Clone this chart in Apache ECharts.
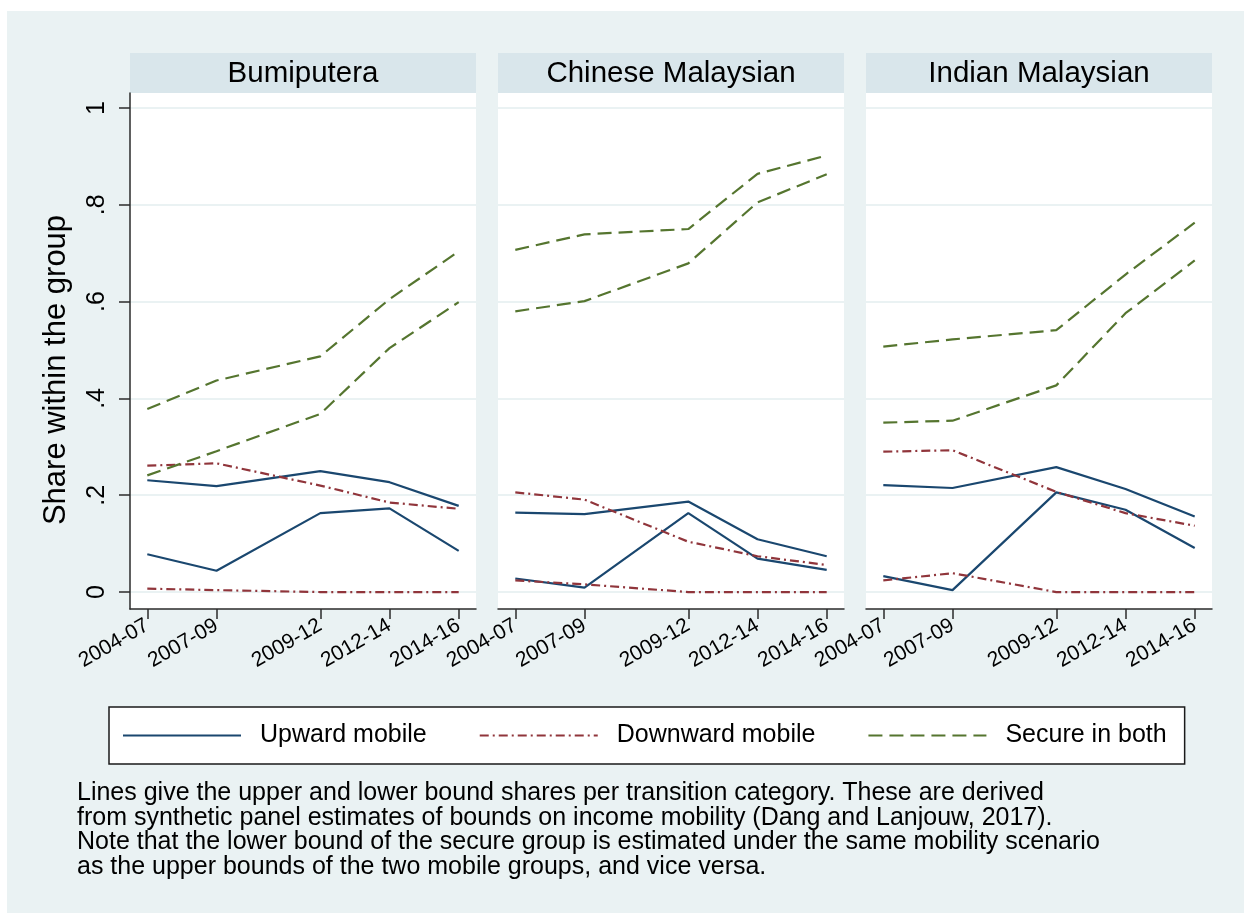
<!DOCTYPE html>
<html>
<head>
<meta charset="utf-8">
<script src="https://cdn.jsdelivr.net/npm/echarts@6/dist/echarts.min.js"></script>
<style>
  html, body { margin: 0; padding: 0; background: #ffffff; }
  #chart { position: absolute; left: 7px; top: 11px; width: 1237px; height: 902px; }
</style>
</head>
<body>
<div id="chart"></div>
<script>
// Survey periods and the year each one ends (used as x position)
const periods = ['2004-07', '2007-09', '2009-12', '2012-14', '2014-16'];
const periodEndYears = [2007, 2009, 2012, 2014, 2016];
const groups = ['Bumiputera', 'Chinese Malaysian', 'Indian Malaysian'];
const categories = ['Upward mobile', 'Downward mobile', 'Secure in both'];
const yTicks = [0, 0.2, 0.4, 0.6, 0.8, 1];
const yTickLabels = ['0', '.2', '.4', '.6', '.8', '1'];

// Bumiputera: upper / lower bound shares
const bumiUpwardHigh   = [0.231, 0.219, 0.250, 0.227, 0.178];
const bumiUpwardLow    = [0.078, 0.044, 0.163, 0.173, 0.085];
const bumiDownwardHigh = [0.261, 0.266, 0.220, 0.185, 0.172];
const bumiDownwardLow  = [0.007, 0.004, 0.000, 0.000, 0.000];
const bumiSecureHigh   = [0.378, 0.437, 0.487, 0.605, 0.704];
const bumiSecureLow    = [0.241, 0.291, 0.368, 0.504, 0.599];

// Chinese Malaysian
const chinUpwardHigh   = [0.164, 0.161, 0.187, 0.109, 0.074];
const chinUpwardLow    = [0.028, 0.009, 0.163, 0.069, 0.046];
const chinDownwardHigh = [0.206, 0.191, 0.104, 0.074, 0.056];
const chinDownwardLow  = [0.024, 0.016, 0.000, 0.000, 0.000];
const chinSecureHigh   = [0.707, 0.739, 0.750, 0.864, 0.902];
const chinSecureLow    = [0.580, 0.601, 0.679, 0.805, 0.863];

// Indian Malaysian
const indUpwardHigh    = [0.221, 0.215, 0.258, 0.213, 0.156];
const indUpwardLow     = [0.033, 0.004, 0.206, 0.170, 0.091];
const indDownwardHigh  = [0.290, 0.293, 0.207, 0.163, 0.137];
const indDownwardLow   = [0.024, 0.039, 0.000, 0.000, 0.000];
const indSecureHigh    = [0.507, 0.522, 0.541, 0.656, 0.763];
const indSecureLow     = [0.350, 0.354, 0.427, 0.576, 0.685];

const noteLines = [
  'Lines give the upper and lower bound shares per transition category. These are derived',
  'from synthetic panel estimates of bounds on income mobility (Dang and Lanjouw, 2017).',
  'Note that the lower bound of the secure group is estimated under the same mobility scenario',
  'as the upper bounds of the two mobile groups, and vice versa.'
];

const panelSeries = [
  [[bumiUpwardHigh, bumiUpwardLow], [bumiDownwardHigh, bumiDownwardLow], [bumiSecureHigh, bumiSecureLow]],
  [[chinUpwardHigh, chinUpwardLow], [chinDownwardHigh, chinDownwardLow], [chinSecureHigh, chinSecureLow]],
  [[indUpwardHigh, indUpwardLow], [indDownwardHigh, indDownwardLow], [indSecureHigh, indSecureLow]]
];

// Layout, in page pixels; the chart box sits at (7, 11)
const OX = 7, OY = 11;
const FONT = "'Liberation Sans', Arial, sans-serif";
const panelLeft = [130, 498, 866];
const panelWidth = 346;
const plotTop = 93, plotBottom = 609;
const stripTop = 53, stripHeight = 40;

const lineStyles = [
  { color: '#1a476f', width: 2.2, type: 'solid' },
  { color: '#90353b', width: 2.2, type: [9, 4, 2, 4] },
  { color: '#55752f', width: 2.2, type: [14, 7] }
];

function yLabel(v) {
  for (let i = 0; i < yTicks.length; i++) if (Math.abs(yTicks[i] - v) < 1e-9) return yTickLabels[i];
  return '';
}
function xLabel(v) {
  for (let i = 0; i < periodEndYears.length; i++) if (Math.abs(periodEndYears[i] - v) < 1e-9) return periods[i];
  return '';
}

const grids = [], xAxes = [], yAxes = [], series = [], graphics = [];

panelLeft.forEach((left, g) => {
  grids.push({
    left: left - OX, top: plotTop - OY, width: panelWidth, height: plotBottom - plotTop,
    show: true, backgroundColor: '#ffffff', borderWidth: 0
  });
  xAxes.push({
    gridIndex: g, type: 'value', min: 2006.5, max: 2016.5,
    axisLine: { show: true, onZero: false, lineStyle: { color: '#2b2b2b', width: 1.5 } },
    axisTick: { show: true, length: 10, customValues: periodEndYears, lineStyle: { color: '#2b2b2b', width: 1.5 } },
    axisLabel: {
      customValues: periodEndYears, formatter: xLabel, rotate: 30, margin: 15,
      fontSize: 21, color: '#000', fontFamily: FONT
    },
    splitLine: { show: false }
  });
  const first = g === 0;
  yAxes.push({
    gridIndex: g, type: 'value', min: -0.035, max: 1.031,
    axisLine: { show: first, onZero: false, lineStyle: { color: '#2b2b2b', width: 1.5 } },
    axisTick: { show: first, length: 11, customValues: yTicks, lineStyle: { color: '#2b2b2b', width: 1.5 } },
    axisLabel: {
      show: first, customValues: yTicks, formatter: yLabel, rotate: 90, margin: 20,
      fontSize: 25, color: '#000', fontFamily: FONT
    },
    splitLine: { show: true, lineStyle: { color: '#eaf2f3', width: 2 } }
  });
  panelSeries[g].forEach((bounds, c) => {
    bounds.forEach(values => {
      series.push({
        name: categories[c], type: 'line', xAxisIndex: g, yAxisIndex: g,
        data: periodEndYears.map((x, i) => [x, values[i]]),
        symbol: 'none', lineStyle: lineStyles[c], itemStyle: { color: lineStyles[c].color },
        silent: true, animation: false
      });
    });
  });
  // facet strip with the group name
  graphics.push({
    type: 'rect', left: left - OX, top: stripTop - OY,
    shape: { width: panelWidth, height: stripHeight },
    style: { fill: '#d9e6eb' }, silent: true
  });
  graphics.push({
    type: 'text', x: left - OX + panelWidth / 2, y: stripTop - OY + stripHeight / 2 + 1,
    style: { text: groups[g], font: '29.5px ' + FONT, fill: '#000', textAlign: 'center', textVerticalAlign: 'middle' },
    silent: true
  });
});

// y-axis title
graphics.push({
  type: 'text', x: 56 - OX, y: 370 - OY, rotation: Math.PI / 2,
  style: { text: 'Share within the group', font: '31px ' + FONT, fill: '#000', textAlign: 'center', textVerticalAlign: 'middle' },
  silent: true
});

const chart = echarts.init(document.getElementById('chart'), null, { renderer: 'canvas' });
chart.setOption({
  backgroundColor: '#eaf2f3',
  animation: false,
  title: {
    text: noteLines.join('\n'), left: 77 - OX, top: 781 - OY, padding: 0,
    textStyle: { fontSize: 25, fontWeight: 'normal', lineHeight: 24.5, color: '#000', fontFamily: FONT }
  },
  legend: {
    data: categories, left: 109 - OX, top: 707 - OY, orient: 'horizontal',
    itemWidth: 118, itemHeight: 20, itemGap: 52,
    padding: [16, 18, 16, 13],
    backgroundColor: '#ffffff', borderColor: '#1a1a1a', borderWidth: 1.5, borderRadius: 0,
    selectedMode: false,
    itemStyle: { opacity: 0 },
    textStyle: { fontSize: 25, lineHeight: 25, color: '#000', fontFamily: FONT, padding: [0, 0, 0, 14] }
  },
  grid: grids,
  xAxis: xAxes,
  yAxis: yAxes,
  series: series,
  graphic: graphics
});
</script>
</body>
</html>
